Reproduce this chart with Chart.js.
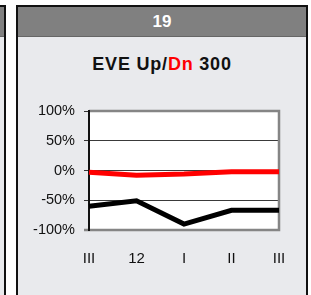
<!DOCTYPE html>
<html lang="en">
<head>
<meta charset="UTF-8">
<title>EVE Up/Dn 300</title>
<script src="https://cdn.jsdelivr.net/npm/chart.js"></script>
<style>
    html, body { margin: 0; padding: 0; background: #fff; width: 311px; height: 295px; overflow: hidden; font-family: "Liberation Sans", Arial, sans-serif; }
    .panel { position: absolute; top: 5px; height: 310px; background: #e9eaed; border: 2px solid #111; box-sizing: border-box; }
    .panel .head { height: 29px; background: #808080; border-bottom: 1px solid #666; color: #fff; font-weight: bold; font-size: 17px; text-align: center; line-height: 29px; }
    #left { left: -20px; width: 26px; }
    #right { left: 16px; width: 292px; }
    .title { position: absolute; top: 47px; left: 0; right: 0; text-align: center; font-weight: bold; font-size: 18px; letter-spacing: 0.8px; color: #111; }
    .title .dn { color: #ff0000; }
    #box { position: absolute; left: 1px; top: 84px; width: 288px; height: 195px; }
</style>
</head>
<body>
<div class="panel" id="left"><div class="head"></div></div>
<div class="panel" id="right">
    <div class="head">19</div>
    <div class="title">EVE Up/<span class="dn">Dn</span> 300</div>
    <div id="box"><canvas id="eveChart"></canvas></div>
</div>

<script>
// ======= Datos =======
const etiquetas = ['III', '12', 'I', 'II', 'III'];
const serieUp = [-60, -51, -90, -67, -67];   // negra
const serieDn = [-3, -8, -6, -2, -2];        // roja
const ticksY = [100, 50, 0, -50, -100];

// fondo blanco y marco gris del área
const marcoPlugin = {
    id: 'marco',
    beforeDraw(chart) {
        const a = chart.chartArea, ctx = chart.ctx;
        ctx.save();
        ctx.fillStyle = '#fff';
        ctx.fillRect(a.left, a.top, a.right - a.left, a.bottom - a.top);
        ctx.restore();
    },
    beforeDatasetsDraw(chart) {
        const a = chart.chartArea, ctx = chart.ctx;
        ctx.save();
        ctx.strokeStyle = '#858585';
        ctx.lineWidth = 2.5;
        ctx.beginPath();
        ctx.moveTo(a.left, a.top);
        ctx.lineTo(a.right, a.top);
        ctx.lineTo(a.right, a.bottom);
        ctx.lineTo(a.left - 5, a.bottom);
        ctx.stroke();
        ctx.strokeStyle = '#111';
        ctx.lineWidth = 2;
        ctx.beginPath();
        ctx.moveTo(a.left, a.top - 1);
        ctx.lineTo(a.left, a.bottom + 1);
        ctx.stroke();
        ctx.restore();
    }
};

new Chart(document.getElementById('eveChart'), {
    type: 'line',
    data: {
        labels: etiquetas,
        datasets: [
            { label: 'Up', data: serieUp, borderColor: '#000', borderWidth: 5, pointRadius: 0, tension: 0, fill: false },
            { label: 'Dn', data: serieDn, borderColor: '#ff0000', borderWidth: 5, pointRadius: 0, tension: 0, fill: false }
        ]
    },
    options: {
        responsive: true,
        maintainAspectRatio: false,
        animation: false,
        layout: { padding: { top: 20, right: 28, left: 0, bottom: 0 } },
        plugins: { legend: { display: false }, tooltip: { enabled: false } },
        scales: {
            x: {
                offset: false,
                afterFit(scale) { scale.height = 56; },
                grid: { display: false, drawTicks: false },
                border: { display: false },
                ticks: { color: '#111', font: { family: 'Liberation Sans', size: 15 }, padding: 20, maxRotation: 0, autoSkip: false }
            },
            y: {
                min: -100, max: 100,
                afterBuildTicks(scale) { scale.ticks = ticksY.map(v => ({ value: v })); },
                afterFit(scale) { scale.width = 70; },
                border: { display: false },
                grid: {
                    color: ctx => (Math.abs(ctx.tick.value) === 100 ? 'rgba(0,0,0,0)' : '#3a3a3a'),
                    lineWidth: 1,
                    tickLength: 5,
                    tickColor: '#333'
                },
                ticks: {
                    color: '#111',
                    font: { family: 'Liberation Sans', size: 14.5 },
                    padding: 9,
                    callback: v => v + '%'
                }
            }
        }
    },
    plugins: [marcoPlugin]
});
</script>
</body>
</html>
